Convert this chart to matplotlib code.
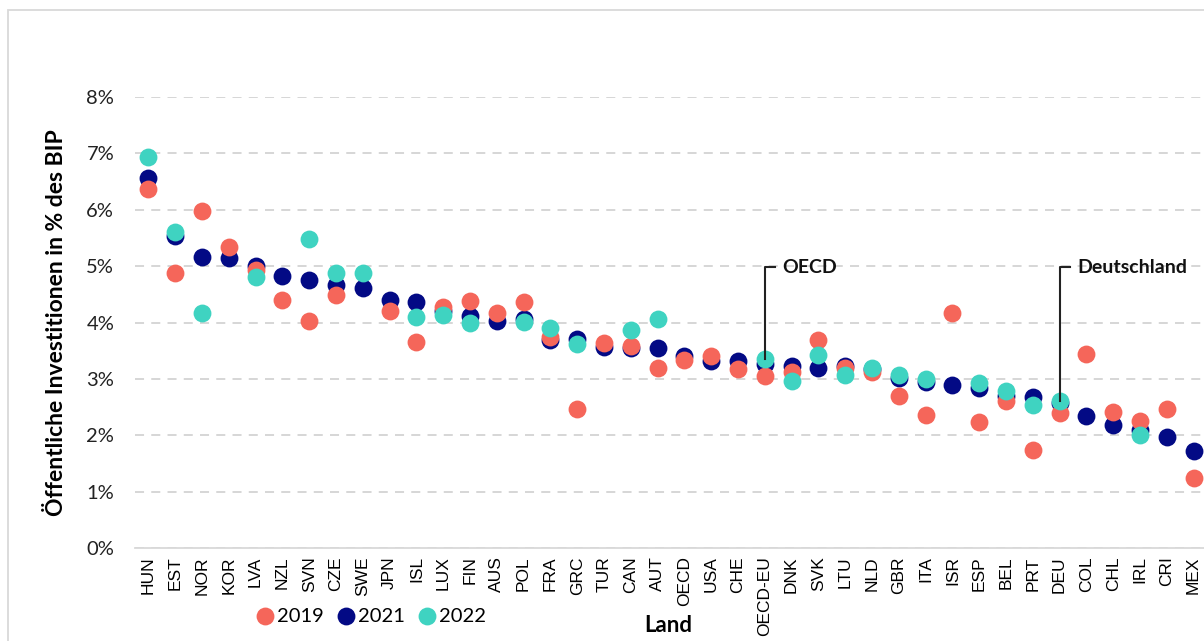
import numpy as np
import matplotlib
matplotlib.use("Agg")
from matplotlib import pyplot as plt
from matplotlib.patches import Rectangle
from matplotlib.ticker import FuncFormatter

# Öffentliche Investitionen in % des BIP, nach Land
laender = ["HUN", "EST", "NOR", "KOR", "LVA", "NZL", "SVN", "CZE", "SWE", "JPN",
           "ISL", "LUX", "FIN", "AUS", "POL", "FRA", "GRC", "TUR", "CAN", "AUT",
           "OECD", "USA", "CHE", "OECD-EU", "DNK", "SVK", "LTU", "NLD", "GBR", "ITA",
           "ISR", "ESP", "BEL", "PRT", "DEU", "COL", "CHL", "IRL", "CRI", "MEX"]

werte_2019 = [6.37, 4.88, 5.97, 5.34, 4.94, 4.40, 4.02, 4.48, None, 4.20,
              3.66, 4.28, 4.38, 4.17, 4.36, 3.75, 2.46, 3.64, 3.59, 3.19,
              3.33, 3.41, 3.17, 3.05, 3.13, 3.69, 3.20, 3.13, 2.70, 2.36,
              4.16, 2.23, 2.61, 1.74, 2.39, 3.44, 2.41, 2.26, 2.46, 1.25]

werte_2021 = [6.57, 5.53, 5.16, 5.14, 5.00, 4.82, 4.75, 4.67, 4.62, 4.40,
              4.37, 4.20, 4.12, 4.03, 4.07, 3.69, 3.71, 3.56, 3.54, 3.54,
              3.41, 3.31, 3.32, 3.26, 3.23, 3.20, 3.23, 3.17, 3.01, 2.95,
              2.89, 2.84, 2.70, 2.68, 2.57, 2.34, 2.18, 2.09, 1.97, 1.72]

# keine Werte 2022 für einige Länder
werte_2022 = [6.93, 5.61, 4.17, None, 4.80, None, 5.48, 4.87, 4.88, None,
              4.09, 4.14, 4.00, None, 4.01, 3.91, 3.61, None, 3.87, 4.06,
              None, None, None, 3.35, 2.96, 3.42, 3.07, 3.20, 3.06, 3.00,
              None, 2.92, 2.79, 2.54, 2.60, None, None, 2.00, None, None]

hinweise = {"OECD-EU": "OECD", "DEU": "Deutschland"}

c2019 = "#f5665a"
c2021 = "#030a85"
c2022 = "#3fd3c1"


def to_arr(vals):
    return np.array([np.nan if v is None else v for v in vals], dtype=float) / 100


def main():
    fig = plt.figure(figsize=(12.04, 6.41), dpi=100)
    ax = fig.add_axes([135 / 1204, 1 - 548 / 641, 1072 / 1204, 451 / 641])

    # Rahmen um das Diagramm (wie Excel)
    fig.patches.append(Rectangle((8 / 1204, -0.1), 1.2, 1 - 10 / 641 + 0.1,
                                 transform=fig.transFigure, fill=False,
                                 edgecolor="#d9d9d9", lw=1.3, zorder=0))

    x = np.arange(len(laender))
    ms = 165
    ax.scatter(x, to_arr(werte_2021), s=ms, color=c2021, label="2021", zorder=3, linewidths=0)
    ax.scatter(x, to_arr(werte_2019), s=ms, color=c2019, label="2019", zorder=4, linewidths=0)
    ax.scatter(x, to_arr(werte_2022), s=ms, color=c2022, label="2022", zorder=5, linewidths=0)

    ax.set_xlim(-0.5, len(laender) - 0.5)
    ax.set_ylim(0, 0.08)
    ax.set_yticks(np.arange(0, 0.081, 0.01))
    ax.yaxis.set_major_formatter(FuncFormatter(lambda v, p: f"{v * 100:.0f}%"))
    ax.set_xticks(x)
    ax.set_xticklabels(laender, rotation=90, fontfamily="Liberation Sans", fontsize=12.5)
    for lab in ax.get_yticklabels():
        lab.set_fontfamily("Lato")
        lab.set_fontsize(14.5)
        lab.set_color("#222222")
    ax.tick_params(axis="both", length=0)
    ax.tick_params(axis="y", pad=15)
    ax.tick_params(axis="x", pad=6)

    ax.grid(axis="y", color="#d3d3d3", linestyle=(0, (5, 4)), lw=1.3)
    ax.set_axisbelow(True)
    for s in ["top", "right", "left"]:
        ax.spines[s].set_visible(False)
    ax.spines["bottom"].set_color("#d9d9d9")
    ax.spines["bottom"].set_linewidth(1.3)
    ax.spines["bottom"].set_zorder(1)

    ax.set_ylabel("Öffentliche Investitionen in % des BIP", fontfamily="Lato",
                  fontweight="bold", fontsize=16.5)
    ax.yaxis.set_label_coords(-0.0636, 0.5)
    ax.set_xlabel("Land", fontfamily="Lato", fontweight="bold", fontsize=16)
    ax.xaxis.set_label_coords(0.4975, -0.148)

    # Hinweislinien
    ytop = 0.0498
    for land, text in hinweise.items():
        i = laender.index(land)
        yb = to_arr(werte_2022)[i]
        ax.plot([i, i, i + 0.38], [yb, ytop, ytop], color="#222222", lw=1.5, zorder=6)
        ax.text(i + 0.66, ytop, text, fontfamily="Lato", fontweight="bold",
                fontsize=14, va="center", ha="left", color="#111111")

    handles, labels = ax.get_legend_handles_labels()
    order = [1, 0, 2]
    fig.legend([handles[k] for k in order], [labels[k] for k in order],
               loc="center left", bbox_to_anchor=(255 / 1204, 1 - 616 / 641),
               ncol=3, frameon=False, handlelength=1.0, handletextpad=0.1,
               columnspacing=0.6, borderpad=0, borderaxespad=0,
               prop={"family": "Lato", "size": 14.5})

    fig.savefig("out.png", dpi=100)


if __name__ == "__main__":
    main()
